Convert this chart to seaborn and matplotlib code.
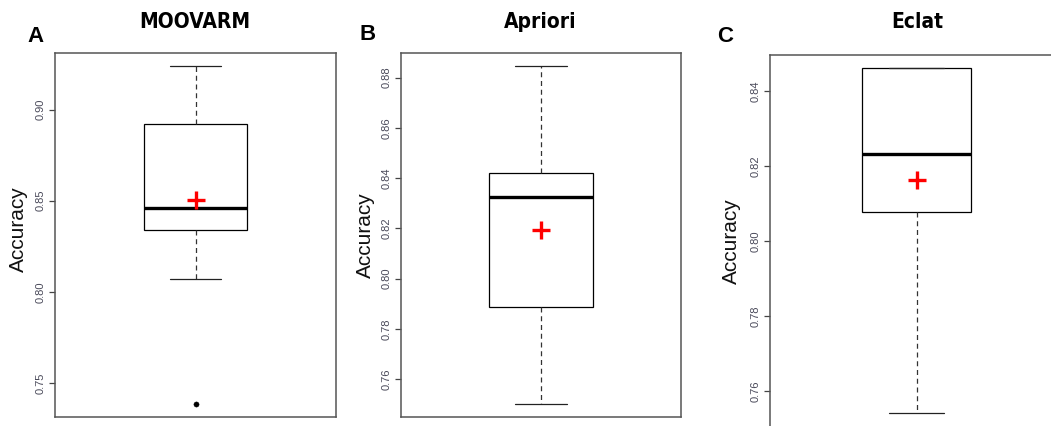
import matplotlib
matplotlib.use('Agg')
import matplotlib.pyplot as plt
from matplotlib.ticker import MultipleLocator
import seaborn as sns
import pandas as pd

# Resumo das caixas (um valor por método)
methods = ['MOOVARM', 'Apriori', 'Eclat']
panel_letters = ['A', 'B', 'C']
whisker_low = [0.8071, 0.7501, 0.7540]
q1 = [0.8340, 0.7887, 0.8078]
median = [0.8462, 0.8323, 0.8231]
q3 = [0.8923, 0.8419, 0.8461]
whisker_high = [0.9236, 0.8845, 0.8461]
means = [0.8505, 0.8195, 0.8163]
outliers = [[0.7385], [], []]

sns.set_theme(style='white')
plt.rcParams['font.family'] = ['Liberation Sans', 'DejaVu Sans']
plt.rcParams['text.color'] = 'black'

W, H = 1051, 426
fig = plt.figure(figsize=(W / 100, H / 100), dpi=100)

# layout em pixels: esquerda, topo, largura, altura
boxes_px = [(55, 53, 281, 364), (401, 53, 280, 364), (770, 55, 293, 380)]
ylims = [(0.7313, 0.931), (0.7449, 0.8898), (0.7482, 0.8496)]
steps = [0.05, 0.02, 0.02]
title_x = [195, 540, 917]
letter_xy = [(36, 36), (368, 35), (725, 36)]
ylabel_xy = [(18.5, 229), (365, 235), (731, 241)]

for i, m in enumerate(methods):
    l, t, w, h = boxes_px[i]
    ax = fig.add_axes([l / W, 1 - (t + h) / H, w / W, h / H])
    vals = [whisker_low[i], q1[i], median[i], q3[i], whisker_high[i]]
    df = pd.DataFrame({'metodo': m, 'Accuracy': vals})
    sns.boxplot(data=df, y='Accuracy', ax=ax, width=0.37, color='white',
                linecolor='black', linewidth=0.9, showfliers=False, whis=(0, 100),
                whiskerprops=dict(linestyle=(0, (4, 3)), color='#333333'),
                capprops=dict(color='#222222'),
                medianprops=dict(linewidth=2.4, color='black'))
    if outliers[i]:
        sns.scatterplot(x=[0] * len(outliers[i]), y=outliers[i], ax=ax,
                        color='black', s=14, edgecolor='black', zorder=5)
    sns.scatterplot(x=[0], y=[means[i]], ax=ax, marker='+', s=170,
                    color='red', linewidth=2.4, zorder=6)
    ax.set_xlim(-0.5, 0.5)
    ax.set_ylim(*ylims[i])
    ax.yaxis.set_major_locator(MultipleLocator(steps[i]))
    ax.set_yticklabels([f'{v:.2f}' for v in ax.get_yticks()])
    ax.set_xticks([])
    ax.set_xlabel('')
    ax.set_ylabel('')
    ax.tick_params(axis='y', left=True, length=4, width=0.9, pad=2.5,
                   labelsize=8, labelcolor='#4a4a5a', color='#444444')
    for lab in ax.get_yticklabels():
        lab.set_rotation(90)
        lab.set_va('center')
    for s in ax.spines.values():
        s.set_visible(True)
        s.set_color('#555555')
        s.set_linewidth(1.1)

    fig.text(title_x[i] / W, 1 - 21.5 / H, m, ha='center', va='center',
             fontsize=15, fontweight='bold', fontstretch='condensed',
             family=['DejaVu Sans'])
    lx, ly = letter_xy[i]
    fig.text(lx / W, 1 - ly / H, panel_letters[i], ha='center', va='center',
             fontsize=16, fontweight='bold')
    yx, yy = ylabel_xy[i]
    fig.text(yx / W, 1 - yy / H, 'Accuracy', ha='center', va='center',
             rotation=90, fontsize=15, color='#111111')

fig.savefig('out.png', dpi=100)
